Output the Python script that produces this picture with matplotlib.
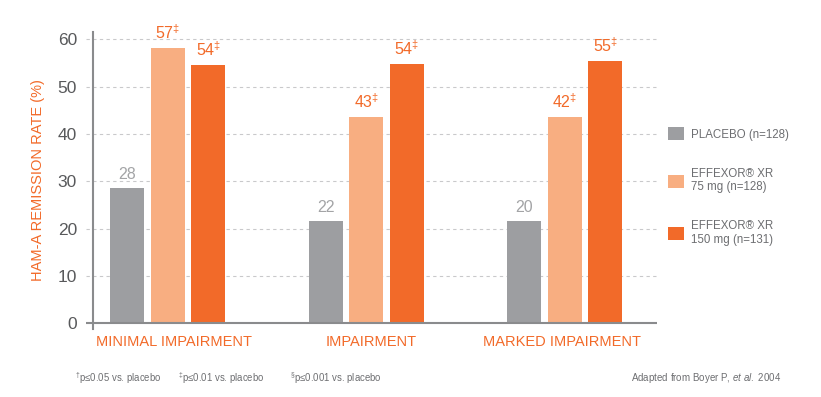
import matplotlib
matplotlib.use("Agg")
import matplotlib.pyplot as plt
import matplotlib.transforms as mtransforms
import numpy as np
from matplotlib.lines import Line2D

plt.rcParams['font.family'] = ['Liberation Sans', 'DejaVu Sans']
plt.rcParams['mathtext.fontset'] = 'custom'
plt.rcParams['mathtext.rm'] = 'Liberation Sans'
plt.rcParams['mathtext.it'] = 'Liberation Sans:italic'
plt.rcParams['mathtext.bf'] = 'Liberation Sans:bold'

categories = ["MINIMAL IMPAIRMENT", "IMPAIRMENT", "MARKED IMPAIRMENT"]
series_names = ["PLACEBO (n=128)", "EFFEXOR\u00ae XR\n75 mg (n=128)", "EFFEXOR\u00ae XR\n150 mg (n=131)"]
placebo = [28.6, 21.7, 21.7]
effexor_75 = [58.1, 43.6, 43.6]
effexor_150 = [54.6, 54.8, 55.4]
value_labels = [["28", "22", "20"],
                ["57$^{\\ddag}$", "43$^{\\ddag}$", "42$^{\\ddag}$"],
                ["54$^{\\ddag}$", "54$^{\\ddag}$", "55$^{\\ddag}$"]]
yticks = [0, 10, 20, 30, 40, 50, 60]
footnotes = ["$^{\\dag}$p\u22640.05 vs. placebo",
             "$^{\\ddag}$p\u22640.01 vs. placebo",
             "$^{\\S}$p\u22640.001 vs. placebo"]

colors = ["#9d9ea1", "#f8ae81", "#f26a29"]
label_colors = ["#a3a4a6", "#f26a29", "#f26a29"]
orange = "#f26a29"
axis_gray = "#8a8b8d"
text_gray = "#58595b"

W, H = 821, 397
fig = plt.figure(figsize=(W / 100, H / 100), dpi=100)
ax = fig.add_axes([86 / W, 1 - 329 / H, (657 - 86) / W, (329 - 32.2) / H])

x = np.arange(len(categories))
width = 0.1713
offsets = [-0.204, 0.0, 0.204]
series = [placebo, effexor_75, effexor_150]
bars = []
for i, (vals, off) in enumerate(zip(series, offsets)):
    b = ax.bar(x + off, vals, width, color=colors[i], label=series_names[i], zorder=3)
    bars.append(b)
    for j, rect in enumerate(b):
        ax.annotate(value_labels[i][j], (rect.get_x() + rect.get_width() / 2, rect.get_height()),
                    xytext=(0, 6), textcoords='offset pixels', ha='center', va='bottom',
                    fontsize=11.5, color=label_colors[i], zorder=4)

ax.set_xlim(-0.413, 2.4635)
ax.set_ylim(-1.2, 61.5)
ax.set_yticks(yticks)
ax.set_yticklabels([str(t) for t in yticks], fontsize=12.5, color=text_gray)
ax.tick_params(axis='y', length=0, pad=6.5)
ax.set_xticks(x)
ax.set_xticklabels(categories, fontsize=10.5, color=orange)
ax.tick_params(axis='x', length=0, pad=4)
label_shift = [6, 5, -3]
for lbl, dx in zip(ax.get_xticklabels(), label_shift):
    lbl.set_transform(lbl.get_transform() + mtransforms.ScaledTranslation(dx / 100, 0, fig.dpi_scale_trans))

for s in ['top', 'right', 'bottom', 'left']:
    ax.spines[s].set_visible(False)

# gridlines
for t in yticks[1:]:
    ax.axhline(t, color="#c9c9cb", lw=0.8, ls=(0, (3, 3)), zorder=1)
ax.axhline(0, color=axis_gray, lw=1.5, zorder=5)
# left axis line
ax.add_line(Line2D([7 / 571, 7 / 571], [0, 1], transform=ax.transAxes, color=axis_gray,
                   lw=1.5, clip_on=False, zorder=5))

fig.text(37.7 / W, 1 - 180.5 / H, "HAM-A REMISSION RATE (%)", rotation=90, ha='center', va='center',
         fontsize=10.5, color=orange)

leg = fig.legend(handles=bars, labels=series_names, loc='upper left',
                 bbox_to_anchor=(665 / W, 1 - 124 / H), frameon=False, fontsize=8.3,
                 handlelength=1.36, handleheight=1.36, handletextpad=0.6, labelspacing=2.35,
                 borderpad=0.3, borderaxespad=0)
for t in leg.get_texts():
    t.set_color("#6d6e71")
    t.set_linespacing(1.15)

foot_x = [75, 178, 290]
for fx, ft in zip(foot_x, footnotes):
    fig.text(fx / W, 1 - 378 / H, ft, ha='left', va='center', fontsize=6.9, color="#6d6e71")
fig.text(781 / W, 1 - 378 / H, "Adapted from Boyer P, $\\it{et\\ al.}$ 2004", ha='right', va='center',
         fontsize=7.0, color="#6d6e71")

fig.savefig("out.png", dpi=100)
